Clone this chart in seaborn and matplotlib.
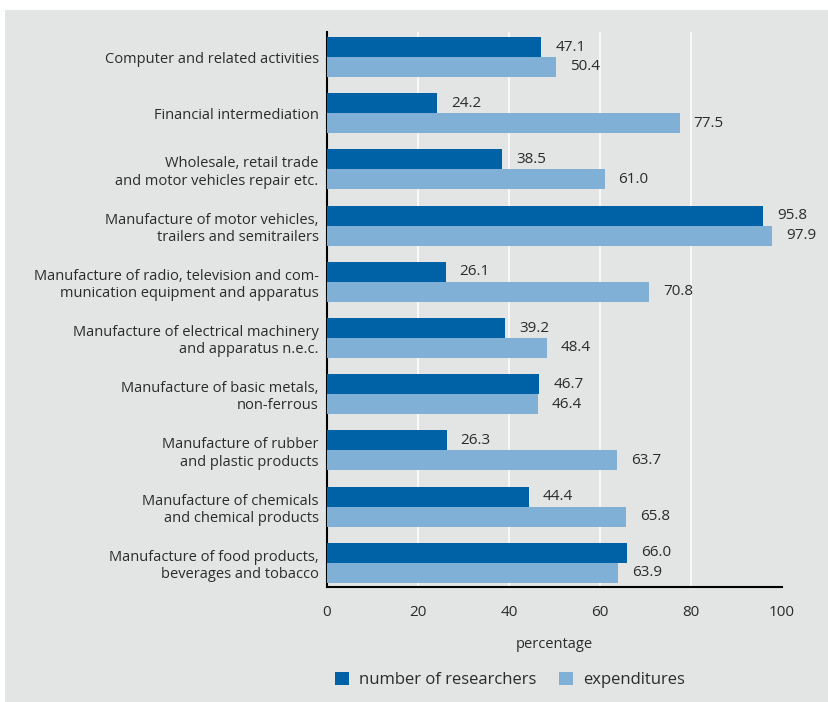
import matplotlib
matplotlib.use("Agg")
import matplotlib.pyplot as plt
from matplotlib.patches import Rectangle
import seaborn as sns
import pandas as pd

categories = [
    "Computer and related activities",
    "Financial intermediation",
    "Wholesale, retail trade\nand motor vehicles repair etc.",
    "Manufacture of motor vehicles,\ntrailers and semitrailers",
    "Manufacture of radio, television and com-\nmunication equipment and apparatus",
    "Manufacture of electrical machinery\nand apparatus n.e.c.",
    "Manufacture of basic metals,\nnon-ferrous",
    "Manufacture of rubber\nand plastic products",
    "Manufacture of chemicals\nand chemical products",
    "Manufacture of food products,\nbeverages and tobacco",
]
researchers = [47.1, 24.2, 38.5, 95.8, 26.1, 39.2, 46.7, 26.3, 44.4, 66.0]
expenditures = [50.4, 77.5, 61.0, 97.9, 70.8, 48.4, 46.4, 63.7, 65.8, 63.9]
series_names = ["number of researchers", "expenditures"]
x_ticks = [0, 20, 40, 60, 80, 100]

DARK = "#0062a6"
LIGHT = "#80b0d5"
BG = "#e3e4e4"
TXT = "#2b2b2b"

df = pd.DataFrame({
    "category": categories * 2,
    "value": researchers + expenditures,
    "series": [series_names[0]] * len(categories) + [series_names[1]] * len(categories),
})

sns.set_theme(style="white")
plt.rcParams["font.family"] = ["Open Sans", "DejaVu Sans"]

fig = plt.figure(figsize=(8.29, 7.02), dpi=100)
fig.patch.set_facecolor("white")
fig.patches.append(Rectangle((5 / 829, 0), 1, (702 - 10) / 702,
                             transform=fig.transFigure, facecolor=BG,
                             edgecolor="none", zorder=-10))

ax = fig.add_axes([327 / 829, 1 - 587 / 702, (782 - 327) / 829, (587 - 32) / 702])
ax.set_facecolor(BG)

sns.barplot(data=df, y="category", x="value", hue="series", orient="h",
            palette=[DARK, LIGHT], width=0.71, saturation=1, ax=ax,
            legend=False, linewidth=0, edgecolor="none", zorder=3)

for t in x_ticks[1:-1]:
    ax.axvline(t, color="white", lw=1.1, zorder=1)

for cont in ax.containers:
    ax.bar_label(cont, labels=[f"{v:.1f}" for v in cont.datavalues],
                 padding=10, fontsize=11, color=TXT)

ax.set_xlim(0, 100)
ax.set_xticks(x_ticks)
ax.set_xticklabels([str(t) for t in x_ticks], fontsize=11, color=TXT)
ax.tick_params(axis="x", length=0, pad=13)
ax.tick_params(axis="y", length=0, pad=6, labelsize=10.5, labelcolor=TXT)
for lbl in ax.get_yticklabels():
    lbl.set_horizontalalignment("right")
    lbl.set_multialignment("right")
ax.set_ylabel("")
ax.set_xlabel("percentage", fontsize=10.5, color=TXT, labelpad=12)
ax.set_ylim(9.43, -0.445)

for s in ["top", "right"]:
    ax.spines[s].set_visible(False)
for s in ["left", "bottom"]:
    ax.spines[s].set_color("black")
    ax.spines[s].set_linewidth(1.5)

handles = [Rectangle((0, 0), 1, 1, facecolor=c, edgecolor="none") for c in (DARK, LIGHT)]
fig.legend(handles, series_names, loc="center", bbox_to_anchor=(510 / 829, 1 - 680 / 702),
           ncol=2, frameon=False, fontsize=12, labelcolor=TXT,
           handlelength=0.8, handleheight=0.8, handletextpad=0.6, columnspacing=1.4)

fig.savefig("out.png", dpi=100)
